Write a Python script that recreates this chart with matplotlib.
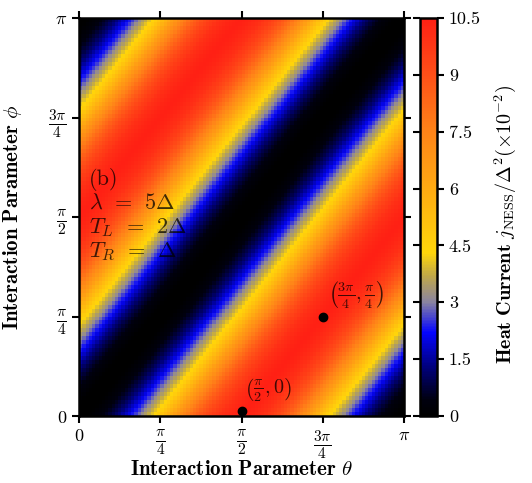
import numpy as np
import matplotlib
matplotlib.use('Agg')
import matplotlib.pyplot as plt
from matplotlib.colors import LinearSegmentedColormap

plt.rcParams['font.family'] = 'serif'
plt.rcParams['font.serif'] = ['cmr10']
plt.rcParams['mathtext.fontset'] = 'cm'
plt.rcParams['axes.formatter.use_mathtext'] = True

# heat current (x1e-2) against the offset theta - phi = k*pi/100, k = 0..50
# (the map is symmetric about k = 50 and repeats with period pi)
current_half = [0.00, 0.01, 0.04, 0.08, 0.14, 0.22, 0.32, 0.44, 0.57, 0.72,
                0.89, 1.08, 1.29, 1.52, 1.77, 2.03, 2.30, 2.58, 2.87, 3.16,
                3.45, 3.75, 4.05, 4.35, 4.67, 5.00, 5.35, 5.70, 6.05, 6.40,
                6.75, 7.08, 7.40, 7.71, 8.00, 8.28, 8.54, 8.79, 9.02, 9.23,
                9.42, 9.60, 9.76, 9.90, 10.03, 10.14, 10.24, 10.32, 10.39, 10.44,
                10.47]
ncell = 100

# marked points
pt_theta = [np.pi/2, 3*np.pi/4]
pt_phi = [0.012*np.pi, np.pi/4]
pt_labels = [r'$\left(\frac{\pi}{2},0\right)$', r'$\left(\frac{3\pi}{4},\frac{\pi}{4}\right)$']

tick_pos = [0, np.pi/4, np.pi/2, 3*np.pi/4, np.pi]
tick_lab = [r'$0$', r'$\frac{\pi}{4}$', r'$\frac{\pi}{2}$', r'$\frac{3\pi}{4}$', r'$\pi$']
tick_size = [13, 16, 16, 16, 13]
cbar_ticks = [0, 1.5, 3, 4.5, 6, 7.5, 9, 10.5]
cbar_lab = ['0', '1.5', '3', '4.5', '6', '7.5', '9', '10.5']

info_lines = ['(b)', r'$\lambda\;\,=\;\,5\Delta$', r'$T_L\;\,=\;\,2\Delta$', r'$T_R\;\,=\;\,\Delta$']

# colour map
vmax = 10.5
cm_nodes = [(0.0, '#000000'), (0.4, '#00000e'), (1.3, '#000080'), (2.2, '#0505ff'),
            (3.0, '#8a84a0'), (3.7, '#c0a848'), (4.3, '#ffd60a'), (6.0, '#ffaa12'),
            (7.5, '#ff8418'), (9.0, '#ff5018'), (10.5, '#ff2014')]
cmap = LinearSegmentedColormap.from_list('heat', [(v/vmax, c) for v, c in cm_nodes], N=256)

prof = np.array(current_half + current_half[-2:0:-1])
k = (np.arange(ncell)[None, :] - np.arange(ncell)[:, None]) % ncell
Z = prof[k]
edges = np.linspace(0, np.pi, ncell+1)

fig = plt.figure(figsize=(5.32, 4.83), dpi=100)
ax = fig.add_axes([0.1485, 0.1387, 0.611, 0.824])
cax = fig.add_axes([0.7895, 0.1387, 0.032, 0.824])

mesh = ax.pcolormesh(edges, edges, Z, cmap=cmap, vmin=0, vmax=vmax, shading='flat')
ax.set_xlim(0, np.pi)
ax.set_ylim(0, np.pi)

ax.plot(pt_theta, pt_phi, 'o', color='k', ms=6, clip_on=False, zorder=5)
offs = [(2.5, 5), (4, 5)]
for x, y, s, o in zip(pt_theta, pt_phi, pt_labels, offs):
	ax.annotate(s, (x, y), xytext=o, textcoords='offset points', fontsize=14.5,
		color='k', alpha=0.75, ha='left', va='bottom')

# baselines of the parameter block, in pixels from the top
for i, s in enumerate(info_lines):
	ax.text(0.031, (416 - (185 + 24*i))/398.0, s, transform=ax.transAxes,
		fontsize=16, color='k', alpha=0.75, va='baseline', ha='left')

ax.set_xticks(tick_pos)
ax.set_xticklabels(tick_lab)
ax.set_yticks(tick_pos)
ax.set_yticklabels(tick_lab)
ax.tick_params(direction='out', length=5, width=1.5, top=True, right=True,
	labeltop=False, labelright=False)
for lab, fs in zip(ax.get_xticklabels(), tick_size):
	lab.set_fontsize(fs)
for lab, fs in zip(ax.get_yticklabels(), tick_size):
	lab.set_fontsize(fs)
for sp in ax.spines.values():
	sp.set_linewidth(1.8)
ax.set_xlabel(r'$\mathbf{Interaction\ Parameter}\ \theta$', fontsize=15)
ax.set_ylabel(r'$\mathbf{Interaction\ Parameter}\ \phi$', fontsize=15)
ax.xaxis.set_label_coords(0.5, -0.11)
ax.yaxis.set_label_coords(-0.17, 0.5)

cb = fig.colorbar(mesh, cax=cax)
cb.set_ticks(cbar_ticks)
cb.set_ticklabels(cbar_lab)
cax.tick_params(direction='out', length=5, width=1.5, labelsize=13, left=True, right=True)
cb.outline.set_linewidth(1.8)
cb.set_label(r'$\mathbf{Heat\ Current}\ j_{\rm NESS}/\Delta^2(\times10^{-2})$', fontsize=14.5)
cax.yaxis.set_label_coords(4.25, 0.48)

fig.savefig('out.png', dpi=100)
